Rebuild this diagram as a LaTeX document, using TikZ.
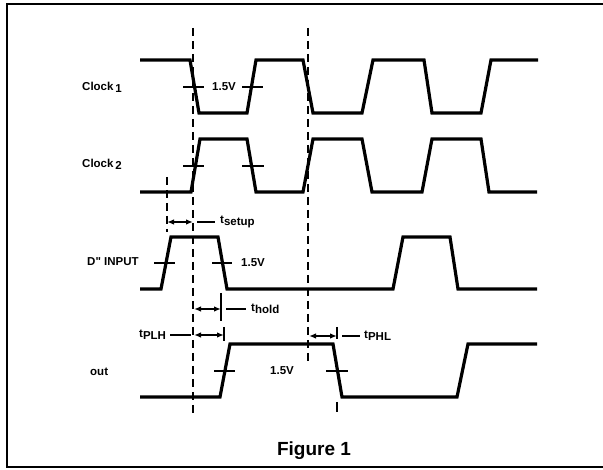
\documentclass[tikz,border=0pt]{standalone}
\usepackage{fontspec}
\setmainfont{Liberation Sans}[Ligatures=TeXOff]
\usetikzlibrary{arrows.meta}
\newcommand{\lowsub}[1]{\raisebox{-0.35ex}{#1}}
\begin{document}
\begin{tikzpicture}[x=1pt,y=-1pt,
  wave/.style={line width=3.2pt, line join=miter},
  tickmark/.style={line width=1.6pt},
  guide/.style={line width=1.7pt, dash pattern=on 8pt off 5pt},
  dimarrow/.style={line width=1.6pt, {Latex[length=7pt,width=5.5pt]}-{Latex[length=7pt,width=5.5pt]}},
  leader/.style={line width=1.4pt},
  lbl/.style={font=\fontsize{11.5}{13}\selectfont\bfseries, inner sep=0pt, anchor=west},
  figcaption/.style={font=\fontsize{19}{22}\selectfont\bfseries, inner sep=0pt},
]
\useasboundingbox (0,0) rectangle (603,470);
% frame (open on the right)
\draw[line width=2pt] (603,4) -- (7,4) -- (7,467) -- (603,467);

% waveforms
\draw[wave] (140,60) -- (190,60) -- (199,113) -- (247,113) -- (256,60) -- (303,60) -- (313,113) -- (362,113) -- (373,60) -- (424,60) -- (432,113) -- (481,113) -- (491,60) -- (538,60);
\draw[wave] (140,192) -- (191,192) -- (200,139) -- (247,139) -- (256,192) -- (303,192) -- (313,139) -- (362,139) -- (372,192) -- (422,192) -- (432,139) -- (481,139) -- (489,192) -- (537,192);
\draw[wave] (140,289) -- (161,289) -- (171,237) -- (218,237) -- (227,289) -- (393,289) -- (403,237) -- (450,237) -- (458,289) -- (537,289);
\draw[wave] (140,397) -- (220,397) -- (230,344) -- (333,344) -- (342,397) -- (457,397) -- (468,344) -- (537,344);

% 1.5V crossing marks
\draw[tickmark] (183,87) -- (204,87);
\draw[tickmark] (242,87) -- (263,87);
\draw[tickmark] (183,166) -- (204,166);
\draw[tickmark] (242,166) -- (264,166);
\draw[tickmark] (154,263) -- (175,263);
\draw[tickmark] (212,263) -- (232,263);
\draw[tickmark] (214,371) -- (235,371);
\draw[tickmark] (326,371) -- (348,371);

% reference guides
\coordinate (g1a) at (193,28);  \coordinate (g1b) at (193,413);
\coordinate (g2a) at (308,28);  \coordinate (g2b) at (308,363);
\coordinate (g3a) at (167,177); \coordinate (g3b) at (167,232);
\draw[guide] (g1a) -- (g1b);
\draw[guide] (g2a) -- (g2b);
\draw[guide] (g3a) -- (g3b);

% setup
\coordinate (s1) at (167,222); \coordinate (s2) at (193,222);
\draw[dimarrow] (s1) -- (s2);
\node[lbl] (tsetup) at (220,222) {t\lowsub{setup}};
\coordinate (sl1) at (197,222); \coordinate (sl2) at (215,222);
\draw[leader] (sl1) -- (sl2);

% hold
\coordinate (h1) at (194,309); \coordinate (h2) at (221,309);
\coordinate (h2a) at (221,293); \coordinate (h2b) at (221,321);
\draw[dimarrow] (h1) -- (h2);
\draw[tickmark] (h2a) -- (h2b);
\node[lbl] (thold) at (251,309) {t\lowsub{hold}};
\coordinate (hl1) at (226,309); \coordinate (hl2) at (246,309);
\draw[leader] (hl1) -- (hl2);

% PLH
\coordinate (p1) at (194,335); \coordinate (p2) at (224,335);
\coordinate (p2a) at (224,327); \coordinate (p2b) at (224,341);
\draw[dimarrow] (p1) -- (p2);
\draw[tickmark] (p2a) -- (p2b);
\node[lbl] (tplh) at (139,335) {t\lowsub{PLH}};
\coordinate (pl1) at (170,335); \coordinate (pl2) at (191,335);
\draw[leader] (pl1) -- (pl2);

% PHL
\coordinate (q1) at (309,336); \coordinate (q2) at (337,336);
\coordinate (q2a) at (337,327); \coordinate (q2b) at (337,339);
\coordinate (q3a) at (337,402); \coordinate (q3b) at (337,412);
\draw[dimarrow] (q1) -- (q2);
\draw[tickmark] (q2a) -- (q2b);
\draw[tickmark] (q3a) -- (q3b);
\node[lbl] (tphl) at (364,336) {t\lowsub{PHL}};
\coordinate (ql1) at (342,336); \coordinate (ql2) at (360,336);
\draw[leader] (ql1) -- (ql2);

% voltage labels
\node[lbl] (v1) at (212,87) {1.5V};
\node[lbl] (v2) at (241,263) {1.5V};
\node[lbl] (v3) at (270,371) {1.5V};

% signal names
\node[lbl] (clk1) at (82,87) {Clock\,\lowsub{1}};
\node[lbl] (clk2) at (82,164) {Clock\,\lowsub{2}};
\node[lbl] (din) at (87,262) {D" INPUT};
\node[lbl] (out) at (90,372) {out};

\node[figcaption] (fig) at (314,451) {Figure 1};
\end{tikzpicture}
\end{document}
